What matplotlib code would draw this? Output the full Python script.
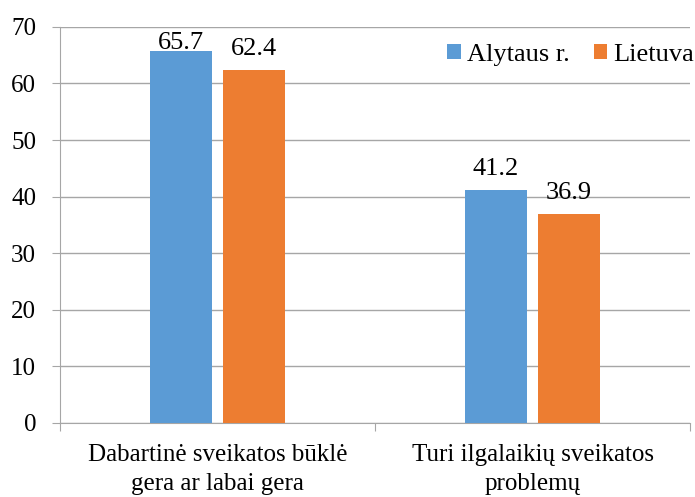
import matplotlib.pyplot as plt
import numpy as np

plt.rcParams['font.family'] = ['Liberation Serif', 'DejaVu Serif']

categories = ['Dabartinė sveikatos būklė\ngera ar labai gera', 'Turi ilgalaikių sveikatos\nproblemų']
alytus = [65.7, 41.2]
lietuva = [62.4, 36.9]
series_names = ['Alytaus r.', 'Lietuva']
colors = ['#5B9BD5', '#ED7D31']

fig = plt.figure(figsize=(6.95, 4.97), dpi=100)
ax = fig.add_axes([0.086, 0.149, 0.907, 0.797])

x = np.arange(len(categories)) + 0.5
w = 0.197
off = 0.116
b1 = ax.bar(x - off, alytus, w, color=colors[0], label=series_names[0], zorder=3)
b2 = ax.bar(x + off, lietuva, w, color=colors[1], label=series_names[1], zorder=3)
for bars in (b1, b2):
    for r in bars:
        h = r.get_height()
        ax.text(r.get_x() + r.get_width() / 2, min(h + 2.6, 66), f'{h:.1f}',
                ha='center', va='baseline', fontsize=19)

ax.set_xlim(0, 2)
ax.set_ylim(0, 70)
ax.set_yticks(range(0, 71, 10))
ax.yaxis.grid(True, color='#A6A6A6', linewidth=1)
ax.set_axisbelow(True)

ax.set_xticks([0, 1, 2])
ax.set_xticklabels([])
ax.set_xticks(x, minor=True)
ax.set_xticklabels(categories, minor=True, fontsize=18, linespacing=1.45)
ax.tick_params(axis='x', which='minor', length=0, pad=15)
ax.tick_params(axis='x', which='major', length=6, color='#A6A6A6')
ax.tick_params(axis='y', length=6, color='#A6A6A6', labelsize=18, pad=11)

for s in ['top', 'right']:
    ax.spines[s].set_visible(False)
for s in ['left', 'bottom']:
    ax.spines[s].set_color('#A6A6A6')

ax.legend(loc='upper right', bbox_to_anchor=(1.015, 0.97), ncol=2, frameon=False, fontsize=19,
          handlelength=0.5, handleheight=0.5, handletextpad=0.25, columnspacing=0.9,
          borderaxespad=0, borderpad=0.2)

fig.savefig('out.png', dpi=100)
